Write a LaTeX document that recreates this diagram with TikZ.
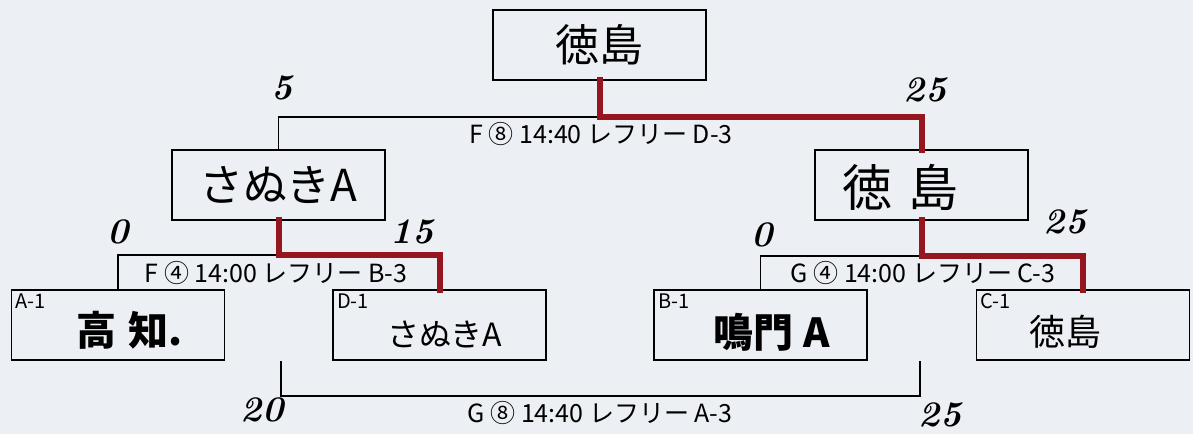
\documentclass[tikz,border=0pt]{standalone}
\usepackage{fontspec}
\newfontfamily\jp{Noto Sans CJK JP}
\definecolor{winred}{RGB}{150,22,32}
\definecolor{paper}{RGB}{236,239,243}
\begin{document}
\begin{tikzpicture}[x=1pt, y=-1pt, line join=miter, line cap=rect,
    every node/.style={inner sep=0pt, outer sep=0pt},
    team/.style={draw, line width=1.6pt, minimum width=213pt, minimum height=70pt, font=\jp\fontsize{44}{48}\selectfont},
    seed/.style={draw, line width=1.6pt, minimum width=213pt, minimum height=70pt},
    teamname/.style={font=\jp\fontsize{38}{42}\selectfont},
    tag/.style={anchor=north west, font=\jp\fontsize{20}{22}\selectfont},
    ref/.style={font=\jp\fontsize{25}{28}\selectfont},
    score/.style={font=\bfseries\itshape\fontsize{36}{40}\selectfont},
    wire/.style={line width=1.6pt},
    win/.style={draw=winred, line width=6pt}]
        \useasboundingbox (0,0) rectangle (1193,434);
        \fill[paper] (0,0) rectangle (1193,434);
        % final and semi finals
        \node[team] (final) at (599.5,45) {徳島};
        \node[team] (semiL) at (278.5,185) {さぬきA};
        \node[team] (semiR) at (921.5,185) {};
        \node[teamname, font=\jp\fontsize{50}{54}\selectfont] (semiRn) at (900,187) {徳\hspace{16pt}島};
        % first round
        \node[seed] (a1) at (118,325) {};
        \node[seed] (d1) at (439.5,325) {};
        \node[seed] (b1) at (760.5,325) {};
        \node[seed] (c1) at (1083,325) {};
        \node[tag] (a1t) at ([shift={(4,4)}]a1.north west) {A-1};
        \node[tag] (d1t) at ([shift={(4,4)}]d1.north west) {D-1};
        \node[tag] (b1t) at ([shift={(4,4)}]b1.north west) {B-1};
        \node[tag] (c1t) at ([shift={(4,4)}]c1.north west) {C-1};
        \node[teamname, font=\jp\bfseries\fontsize{40}{44}\selectfont] (a1n) at (130,330) {高\hspace{12pt}知.};
        \node[teamname, font=\jp\fontsize{32}{36}\selectfont] (d1n) at (445,334) {さぬきA};
        \node[teamname, font=\jp\bfseries\fontsize{40}{44}\selectfont] (b1n) at (772,332) {鳴門\hspace{10pt}A};
        \node[teamname, font=\jp\fontsize{36}{40}\selectfont] (c1n) at (1065,332) {徳島};
        % brackets
        \coordinate (jF) at (599.5,117);
        \coordinate (jL) at (278.5,255);
        \coordinate (jR) at (921.5,256);
        \coordinate (gL) at (281,362);
        \coordinate (gR) at (920,362);
        \draw[wire] (semiL.north) |- (jF);
        \draw[wire] (a1.north) |- (jL);
        \draw[wire] (b1.north) |- (jR);
        \draw[wire] (gL) -- ++(0,34) -| (gR);
        \draw[win] (final.south) -- (jF) -| (semiR.north);
        \draw[win] (semiL.south) -- (jL) -| (d1.north);
        \draw[win] (semiR.south) -- (jR) -| (c1.north);
        % match labels
        \node[ref] (mF8) at (601,134) {F ⑧ 14:40 レフリー D-3};
        \node[ref] (mF4) at (276,273) {F ④ 14:00 レフリー B-3};
        \node[ref] (mG4) at (923,273) {G ④ 14:00 レフリー C-3};
        \node[ref] (mG8) at (600,413) {G ⑧ 14:40 レフリー A-3};
        % scores
        \node[score] (s1) at (282,88) {5};
        \node[score] (s2) at (925,90) {25};
        \node[score] (s3) at (118,232) {0};
        \node[score] (s4) at (412,232) {15};
        \node[score] (s5) at (762,235) {0};
        \node[score] (s6) at (1065,222) {25};
        \node[score] (s7) at (262,410) {20};
        \node[score] (s8) at (940,415) {25};
\end{tikzpicture}
\end{document}
